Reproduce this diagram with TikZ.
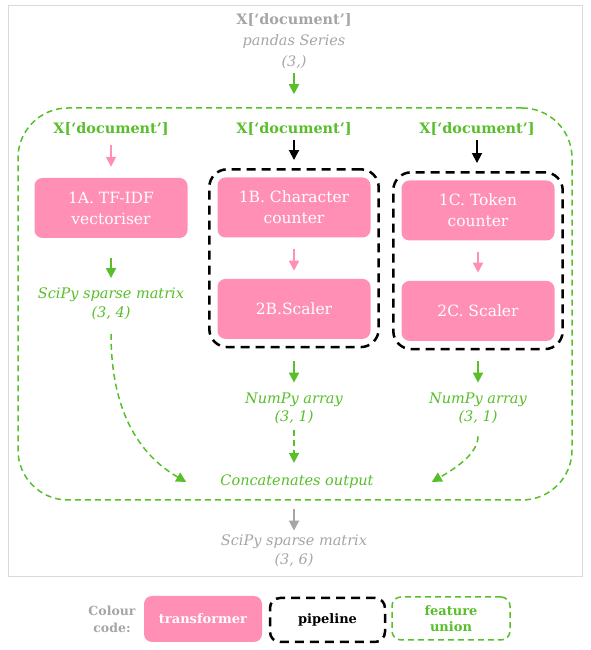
\documentclass[tikz,border=0pt]{standalone}
\usepackage{fontspec}
\setmainfont{DejaVu Serif}
\usetikzlibrary{positioning, fit, arrows.meta, shapes}
\definecolor{tpink}{RGB}{255,143,181}
\definecolor{ugreen}{RGB}{88,190,42}
\definecolor{dgrey}{RGB}{165,165,165}
\definecolor{fgrey}{RGB}{218,218,218}
\tikzset{trans/.style={fill=tpink,rounded corners=8pt,minimum width=153pt,minimum height=60pt,align=center,text=white,font=\fontsize{15.5}{21}\selectfont},
	pipe/.style={draw,line width=2.5pt,dash pattern=on 9pt off 6pt,rounded corners=18pt},
	union/.style={draw=ugreen,line width=1.5pt,dash pattern=on 6pt off 4pt,rounded corners=50pt},
	lbl/.style={align=center,inner sep=0pt,text=ugreen,font=\fontsize{14.5}{18.5}\selectfont\itshape},
	head/.style={text=ugreen,inner sep=0pt,font=\fontsize{14.4}{16}\selectfont\bfseries},
	flow/.style={->,line width=1.8pt}}

\begin{document}
\begin{tikzpicture}[x=1pt,y=1pt,>={Triangle[length=10pt,width=10pt]}]
		\useasboundingbox (0,0) rectangle (590,650);
		\draw[fgrey,line width=1pt] (8,73) rectangle (582,644);
		% Input and feature union
		\node[align=center,inner sep=0pt,text=dgrey,font=\fontsize{14.4}{21}\selectfont] (xin) at (294,609) {\textbf{X[‘document’]}\\\textit{pandas Series}\\\textit{(3,)}};
		\node[union, minimum width=554pt, minimum height=392pt] (fu) at (295,346) {};
		\node[head] (xa) at (111,521) {X[‘document’]};
		\node[head] (xb) at (294,521) {X[‘document’]};
		\node[head] (xc) at (477,521) {X[‘document’]};
		% Transformers and pipelines
		\node[trans] (tfidf) at (111,442) {1A. TF-IDF\\vectoriser};
		\node[trans] (chars) at (294,442.5) {1B. Character\\counter};
		\node[trans, below=41pt of chars] (scaleb) {2B.Scaler};
		\node[trans] (tokens) at (478,439.5) {1C. Token\\counter};
		\node[trans, below=40pt of tokens] (scalec) {2C. Scaler};
		\node[pipe, fit=(chars)(scaleb), inner sep=8pt] (pipeb) {};
		\node[pipe, fit=(tokens)(scalec), inner sep=8pt] (pipec) {};
		% Outputs
		\node[lbl] (ma) at (111,346) {SciPy sparse matrix\\(3, 4)};
		\node[lbl] (nb) at (294,241.5) {NumPy array\\(3, 1)};
		\node[lbl] (nc) at (478,241.5) {NumPy array\\(3, 1)};
		\node[lbl] (cat) at (297,168) {Concatenates output};
		\node[lbl, text=dgrey] (outn) at (294,99.5) {SciPy sparse matrix\\(3, 6)};
		\coordinate (catl) at ([xshift=-34pt]cat.west);
		\coordinate (catr) at ([xshift=58pt]cat.east);
		% Draw the arrows
		\draw[flow,ugreen,shorten <=4pt,shorten >=13pt] (xin) -- (xin |- fu.north);
		\draw[flow,tpink,shorten <=9pt,shorten >=11pt] (xa) -- (tfidf);
		\draw[flow,shorten <=4pt,shorten >=8pt] (xb) -- (xb |- pipeb.north);
		\draw[flow,shorten <=4pt,shorten >=8pt] (xc) -- (xc |- pipec.north);
		\draw[flow,tpink,shorten <=11pt,shorten >=8pt] (chars) -- (scaleb);
		\draw[flow,tpink,shorten <=11pt,shorten >=8pt] (tokens) -- (scalec);
		\draw[flow,ugreen,shorten <=20pt,shorten >=10pt] (tfidf) -- (ma);
		\draw[flow,ugreen,shorten <=13pt,shorten >=10pt] (pipeb.south -| nb) -- (nb);
		\draw[flow,ugreen,shorten <=11pt,shorten >=10pt] (pipec.south -| nc) -- (nc);
		\draw[->,ugreen,line width=1.5pt,dash pattern=on 6pt off 4pt,shorten <=14pt] (ma) to[out=-90,in=150] (catl);
		\draw[->,ugreen,line width=1.5pt,dash pattern=on 6pt off 4pt,shorten <=6pt,shorten >=12pt] (nb) -- (nb |- cat.north);
		\draw[->,ugreen,line width=1.5pt,dash pattern=on 6pt off 4pt,shorten <=12pt] (nc) to[out=-90,in=30] (catr);
		\draw[flow,dgrey,shorten <=8pt,shorten >=4pt] (fu.south -| outn) -- (outn);
		% Colour code
		\node[align=center,inner sep=0pt,text=dgrey,font=\fontsize{12.5}{17}\selectfont\bfseries] (lcode) at (112,31) {Colour\\code:};
		\node[trans, minimum width=118pt, minimum height=46pt, font=\fontsize{13}{16}\selectfont\bfseries] (ltrans) at (203,31) {transformer};
		\node[pipe, rounded corners=10pt, minimum width=115pt, minimum height=44pt, font=\fontsize{13}{16}\selectfont\bfseries] (lpipe) at (327.5,30) {pipeline};
		\node[union, rounded corners=9pt, minimum width=118pt, minimum height=43pt, align=center, text=ugreen, font=\fontsize{13}{16}\selectfont\bfseries] (lunion) at (451,31.5) {feature\\union};
	\end{tikzpicture}
\end{document}
